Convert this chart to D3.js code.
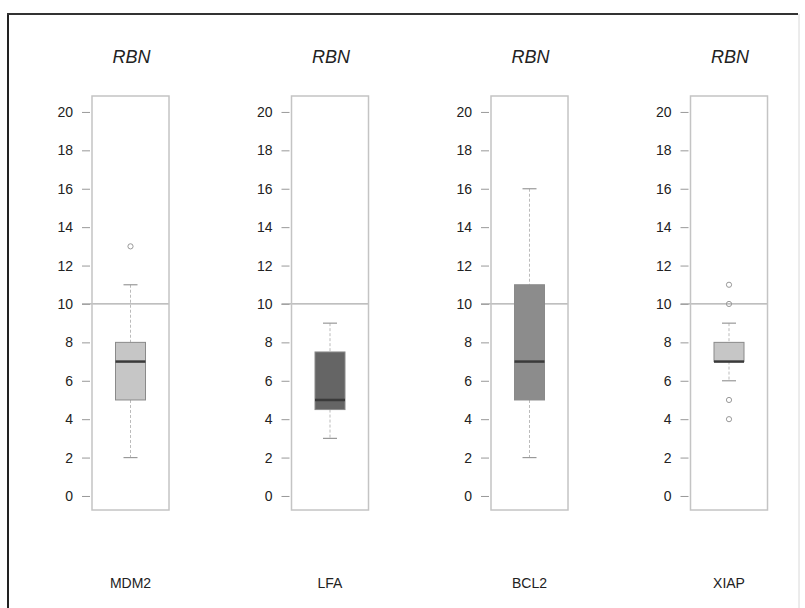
<!DOCTYPE html>
<html>
<head>
<meta charset="utf-8">
<script src="https://cdn.jsdelivr.net/npm/d3@7"></script>
<style>
  body { margin: 0; background: #fff; }
  svg { display: block; }
  text { font-family: "Liberation Sans", Arial, Helvetica, sans-serif; fill: #222; }
</style>
</head>
<body>
<svg id="chart" width="805" height="608"></svg>
<script>
// ---- data ----
const categories = ["MDM2", "LFA", "BCL2", "XIAP"];
const panelTitles = ["RBN", "RBN", "RBN", "RBN"];
const whiskerLow = [2, 3, 2, 6];
const q1 = [5, 4.5, 5, 7];
const median = [7, 5, 7, 7];
const q3 = [8, 7.5, 11, 8];
const whiskerHigh = [11, 9, 16, 9];
const outliers = [[13], [], [], [11, 10, 5, 4]];
const boxFill = ["#c6c6c6", "#656565", "#8c8c8c", "#c6c6c6"];
const yTicks = [0, 2, 4, 6, 8, 10, 12, 14, 16, 18, 20];
const refValue = 10;

// ---- layout ----
const svg = d3.select("#chart");
const panelW = 77, boxW = 30, capW = 14;
const x = d3.scalePoint().domain(categories).range([130.5, 729]);
const y = d3.scaleLinear().domain([-0.73, 20.83]).range([510, 96]);

// outer frame
svg.append("line").attr("x1", 8).attr("x2", 8).attr("y1", 13).attr("y2", 608)
  .attr("stroke", "#222").attr("stroke-width", 2);
svg.append("line").attr("x1", 7).attr("x2", 798).attr("y1", 14).attr("y2", 14)
  .attr("stroke", "#333").attr("stroke-width", 2);
svg.append("line").attr("x1", 799).attr("x2", 799).attr("y1", 14).attr("y2", 608)
  .attr("stroke", "#d8d8d8").attr("stroke-width", 1);

categories.forEach((c, i) => {
  const cx = x(c);
  const left = cx - panelW / 2, right = cx + panelW / 2;
  const g = svg.append("g");

  // axis
  const axis = d3.axisLeft(y).tickValues(yTicks).tickSize(8).tickPadding(9).tickFormat(d3.format("d"));
  const ag = g.append("g").attr("transform", `translate(${left - 2},0)`).call(axis);
  ag.select(".domain").remove();
  ag.selectAll(".tick line").attr("stroke", "#999").attr("stroke-width", 1);
  ag.selectAll(".tick text").style("font-size", "14px").attr("fill", "#222")
    .style("font-family", '"Liberation Sans", Arial, sans-serif');

  // reference line
  g.append("line").attr("x1", left - 10).attr("x2", right)
    .attr("y1", y(refValue)).attr("y2", y(refValue))
    .attr("stroke", "#aaa").attr("stroke-width", 1.2);

  // panel border
  g.append("rect").attr("x", left).attr("y", y.range()[1])
    .attr("width", panelW).attr("height", y.range()[0] - y.range()[1])
    .attr("fill", "none").attr("stroke", "#c4c4c4").attr("stroke-width", 1.5);

  // whiskers (dashed)
  g.append("line").attr("x1", cx).attr("x2", cx)
    .attr("y1", y(whiskerHigh[i])).attr("y2", y(q3[i]))
    .attr("stroke", "#bbb").attr("stroke-width", 1).attr("stroke-dasharray", "3,2");
  g.append("line").attr("x1", cx).attr("x2", cx)
    .attr("y1", y(q1[i])).attr("y2", y(whiskerLow[i]))
    .attr("stroke", "#bbb").attr("stroke-width", 1).attr("stroke-dasharray", "3,2");
  // caps
  [whiskerHigh[i], whiskerLow[i]].forEach(v => {
    g.append("line").attr("x1", cx - capW / 2).attr("x2", cx + capW / 2)
      .attr("y1", y(v)).attr("y2", y(v))
      .attr("stroke", "#999").attr("stroke-width", 1.2);
  });

  // box
  g.append("rect").attr("x", cx - boxW / 2).attr("y", y(q3[i]))
    .attr("width", boxW).attr("height", y(q1[i]) - y(q3[i]))
    .attr("fill", boxFill[i]).attr("stroke", "#8a8a8a").attr("stroke-width", 1);
  // median
  g.append("line").attr("x1", cx - boxW / 2).attr("x2", cx + boxW / 2)
    .attr("y1", y(median[i])).attr("y2", y(median[i]))
    .attr("stroke", "#3a3a3a").attr("stroke-width", 2.5);

  // outliers
  g.selectAll("circle.out").data(outliers[i]).join("circle").attr("class", "out")
    .attr("cx", cx).attr("cy", d => y(d)).attr("r", 2.6)
    .attr("fill", "none").attr("stroke", "#999").attr("stroke-width", 1);

  // title
  g.append("text").attr("x", cx + 1).attr("y", 63).attr("text-anchor", "middle")
    .style("font-size", "18px").style("font-style", "italic").text(panelTitles[i]);
  // category label
  g.append("text").attr("x", cx).attr("y", 588).attr("text-anchor", "middle")
    .style("font-size", "14px").text(c);
});
</script>
</body>
</html>
